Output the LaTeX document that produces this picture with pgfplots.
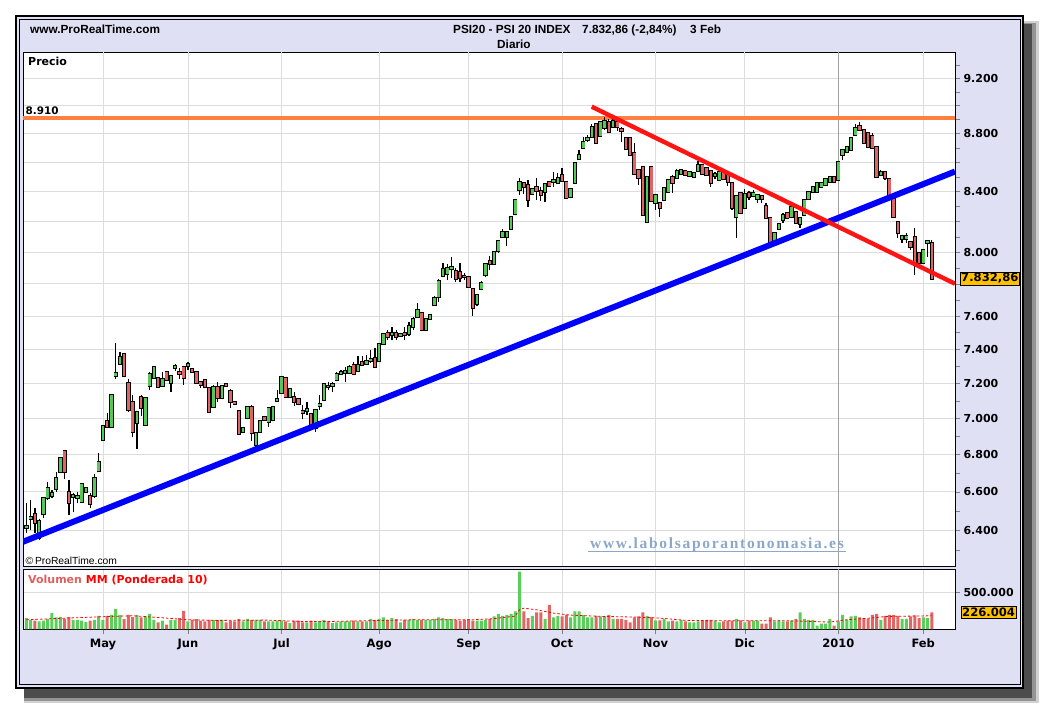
\documentclass[border=0pt]{standalone}
\usepackage{pgfplots}
\pgfplotsset{compat=1.18}
\usepackage{pgfplotstable}
\usepackage{fontspec}
\setmainfont{Liberation Sans}
\newfontfamily\dv{DejaVu Sans}
\newfontfamily\wm{Liberation Serif}[LetterSpace=11]

\definecolor{lav}{RGB}{224,224,244}
\definecolor{cgreen}{RGB}{85,200,85}
\definecolor{cred}{RGB}{224,100,100}
\definecolor{vgreen}{RGB}{90,205,90}
\definecolor{vred}{RGB}{224,102,102}
\definecolor{gridc}{RGB}{220,220,220}
\definecolor{yr}{RGB}{160,160,160}
\definecolor{boxy}{RGB}{255,192,0}
\definecolor{orangeL}{RGB}{255,128,64}
\definecolor{wmc}{RGB}{140,168,200}
\definecolor{volc}{RGB}{224,96,96}
\definecolor{lblue}{RGB}{0,0,255}
\definecolor{lred}{RGB}{255,20,20}

\newcommand\hdr{\fontsize{11.8}{13}\selectfont\bfseries}
\newcommand\tk{\dv\bfseries\fontsize{11}{12}\selectfont}
\newcommand\bx{\dv\bfseries\fontsize{11.6}{13}\selectfont}

\pgfplotstableread{
i o h l c u v
-18 6410 6540 6385 6421 1 148200
-17 6457 6556 6400 6467 1 125700
-16 6483 6514 6385 6436 0 112200
-15 6359 6457 6349 6446 1 103200
-14 6483 6572 6462 6567 1 112200
-13 6567 6652 6556 6620 1 134700
-12 6577 6609 6567 6593 1 215800
-11 6614 6705 6598 6673 1 157200
-10 6705 6786 6700 6781 1 166200
-9 6819 6825 6668 6705 0 139200
-8 6598 6662 6478 6540 0 161700
-7 6572 6593 6493 6583 1 125700
-6 6567 6598 6540 6577 1 125700
-5 6546 6645 6540 6641 1 112200
-4 6598 6625 6593 6620 1 94100
-3 6577 6593 6514 6535 0 112200
-2 6577 6694 6567 6673 1 125700
-1 6711 6808 6705 6759 1 179700
0 6880 6963 6874 6957 1 125700
1 6985 7031 6946 6952 0 179700
2 6952 7138 6946 7133 1 193200
3 7242 7437 7225 7260 1 274300
4 7313 7384 7307 7354 1 193200
5 7372 7378 7236 7242 0 134700
6 7202 7225 7036 7047 0 193200
7 7093 7133 6896 6924 0 161700
8 6974 7042 6830 7036 1 193200
9 7121 7133 7014 7059 0 157200
10 6963 7121 6957 7116 1 170700
11 7184 7266 7162 7254 1 206800
12 7231 7301 7225 7295 1 125700
13 7231 7237 7173 7179 0 89600
14 7184 7266 7179 7225 1 112200
15 7266 7272 7214 7219 0 58100
16 7202 7248 7150 7242 1 125700
17 7289 7313 7272 7301 1 125700
18 7266 7289 7225 7254 0 148200
19 7295 7301 7190 7231 0 247300
20 7301 7324 7278 7313 1 103200
21 7283 7289 7260 7266 0 125700
22 7266 7272 7196 7202 0 134700
23 7208 7214 7173 7190 0 112200
24 7219 7225 7173 7179 0 103200
25 7173 7179 7031 7036 0 125700
26 7064 7190 7059 7179 1 125700
27 7179 7208 7093 7116 0 125700
28 7116 7190 7110 7184 1 125700
29 7196 7202 7179 7184 0 89600
30 7156 7167 7059 7093 0 112200
31 7093 7099 7076 7082 0 103200
32 7042 7047 6908 6913 0 139200
33 6924 6952 6919 6946 1 103200
34 7002 7070 6996 7064 1 139200
35 7064 7076 6874 6919 0 125700
36 6852 6924 6836 6919 1 125700
37 6924 6991 6919 6985 1 125700
38 7008 7014 6985 6991 0 103200
39 6980 7064 6952 7059 1 103200
40 6991 7070 6985 7064 1 103200
41 7099 7162 7093 7110 1 112200
42 7145 7242 7139 7237 1 112200
43 7231 7237 7116 7121 0 103200
44 7121 7173 7116 7167 1 80600
45 7121 7150 7070 7093 0 112200
46 7110 7116 7076 7082 0 112200
47 7042 7076 6996 7031 0 89600
48 7042 7093 7019 7053 1 89600
49 7025 7031 6941 6946 0 112200
50 6946 7053 6924 7047 1 89600
51 7070 7133 7047 7082 1 103200
52 7104 7202 7099 7196 1 125700
53 7184 7208 7162 7179 0 103200
54 7184 7208 7150 7196 1 80600
55 7219 7266 7214 7254 1 89600
56 7254 7278 7248 7266 1 103200
57 7260 7295 7208 7272 1 103200
58 7260 7307 7254 7295 1 103200
59 7307 7324 7248 7254 0 112200
60 7272 7360 7266 7307 1 103200
61 7324 7360 7301 7307 0 103200
62 7313 7366 7307 7330 1 103200
63 7330 7395 7318 7342 1 134700
64 7348 7407 7289 7295 0 125700
65 7330 7437 7324 7431 1 139200
66 7431 7497 7425 7491 1 157200
67 7497 7515 7455 7473 0 125700
68 7485 7533 7455 7497 1 148200
69 7497 7515 7455 7473 0 134700
70 7479 7497 7473 7491 1 89600
71 7497 7533 7455 7485 0 125700
72 7491 7564 7479 7539 1 125700
73 7533 7594 7515 7582 1 139200
74 7594 7680 7588 7637 1 125700
75 7619 7625 7509 7515 0 125700
76 7515 7588 7509 7582 1 125700
77 7582 7612 7576 7606 1 125700
78 7668 7723 7662 7711 1 139200
79 7717 7829 7686 7817 1 157200
80 7848 7931 7842 7892 1 148200
81 7861 7924 7823 7899 1 134700
82 7892 7969 7836 7905 1 134700
83 7880 7899 7810 7829 0 125700
84 7874 7931 7810 7836 0 112200
85 7848 7867 7823 7842 0 125700
86 7842 7848 7773 7779 0 134700
87 7767 7773 7600 7649 0 112200
88 7674 7735 7662 7729 1 112200
89 7767 7817 7760 7804 1 112200
90 7855 7931 7842 7924 1 125700
91 7943 7975 7886 7924 0 139200
92 7924 8007 7918 8001 1 170700
93 8007 8078 7995 8072 1 206800
94 8098 8150 8091 8130 1 179700
95 8098 8137 8040 8130 1 188700
96 8150 8236 8143 8229 1 206800
97 8249 8349 8242 8342 1 238300
98 8409 8491 8376 8464 1 778900
99 8457 8464 8382 8430 0 238300
100 8443 8477 8295 8342 0 148200
101 8382 8423 8376 8416 1 179700
102 8430 8491 8342 8403 0 224800
103 8403 8430 8336 8376 0 224800
104 8396 8457 8329 8450 1 139200
105 8464 8470 8430 8436 0 328400
106 8464 8532 8430 8477 1 157200
107 8457 8525 8450 8491 1 179700
108 8511 8559 8464 8470 0 170700
109 8464 8470 8349 8355 0 188700
110 8362 8423 8355 8416 1 157200
111 8457 8600 8450 8594 1 238300
112 8621 8684 8614 8649 1 238300
113 8698 8775 8691 8740 1 193200
114 8754 8789 8740 8768 1 157200
115 8775 8867 8775 8846 1 157200
116 8867 8874 8726 8733 0 179700
117 8782 8888 8775 8881 1 170700
118 8839 8917 8824 8888 1 170700
119 8881 8902 8803 8810 0 193200
120 8846 8902 8839 8888 1 139200
121 8881 8896 8817 8846 0 139200
122 8831 8846 8740 8817 0 139200
123 8768 8775 8684 8691 0 125700
124 8768 8775 8642 8649 0 89600
125 8663 8733 8511 8518 0 157200
126 8546 8552 8443 8491 0 170700
127 8566 8573 8236 8242 0 224800
128 8196 8505 8190 8498 1 179700
129 8566 8573 8329 8336 0 161700
130 8322 8382 8275 8376 1 116700
131 8322 8329 8229 8289 0 116700
132 8342 8430 8336 8423 1 139200
133 8396 8484 8389 8477 1 103200
134 8498 8511 8389 8457 0 112200
135 8491 8552 8484 8539 1 103200
136 8518 8552 8511 8546 1 125700
137 8539 8546 8505 8511 0 103200
138 8505 8539 8498 8532 1 89600
139 8498 8532 8491 8525 1 89600
140 8539 8607 8532 8580 1 103200
141 8580 8587 8511 8518 0 112200
142 8559 8566 8505 8511 0 125700
143 8539 8546 8430 8457 0 125700
144 8505 8532 8484 8518 1 112200
145 8477 8539 8470 8532 1 89600
146 8525 8532 8477 8484 0 103200
147 8525 8532 8436 8464 0 112200
148 8457 8464 8275 8289 0 112200
149 8229 8376 8091 8369 1 139200
150 8389 8396 8249 8256 0 116700
151 8289 8416 8282 8382 1 89600
152 8389 8403 8342 8362 0 112200
153 8369 8409 8362 8389 1 112200
154 8349 8382 8322 8376 1 112200
155 8369 8376 8322 8349 0 71600
156 8302 8322 8216 8222 0 71600
157 8222 8229 8053 8059 0 157200
158 8059 8130 8053 8124 1 103200
159 8150 8190 8143 8183 1 116700
160 8209 8256 8190 8242 1 103200
161 8256 8262 8216 8222 0 103200
162 8229 8302 8222 8295 1 112200
163 8262 8269 8183 8190 0 139200
164 8183 8229 8157 8222 1 224800
165 8242 8349 8236 8342 1 139200
166 8349 8403 8342 8396 1 125700
167 8396 8436 8389 8430 1 125700
168 8396 8464 8389 8457 1 44600
169 8430 8464 8423 8457 1 71600
170 8443 8491 8436 8484 1 71600
171 8464 8505 8457 8498 1 139200
172 8498 8505 8457 8464 0 44600
173 8477 8607 8470 8600 1 103200
174 8649 8691 8614 8684 1 193200
175 8670 8712 8663 8705 1 125700
176 8684 8775 8677 8768 1 170700
177 8789 8867 8782 8839 1 179700
178 8853 8881 8817 8824 0 157200
179 8824 8831 8726 8733 0 148200
180 8803 8810 8698 8705 0 139200
181 8782 8803 8691 8698 0 193200
182 8705 8712 8491 8498 0 206800
183 8511 8546 8505 8532 1 125700
184 8532 8539 8477 8491 0 179700
185 8484 8491 8355 8362 0 193200
186 8355 8362 8222 8229 0 193200
187 8196 8203 8091 8124 0 179700
188 8085 8111 8059 8104 1 139200
189 8085 8124 8059 8104 1 139200
190 8066 8072 8014 8033 0 170700
191 8098 8157 7855 7931 0 184200
192 7995 8001 7924 7931 0 148200
193 7931 8020 7924 8014 1 157200
194 8059 8078 7969 8072 1 148200
195 8062 8078 7823 7833 0 226004
}\candles

\pgfplotstableread{
i p
-18.82 8910
200.47 8910
}\levelline
\pgfplotstableread{
i p
-18.82 6340
200.47 8536
}\blueline
\pgfplotstableread{
i p
115.0 8992
200.47 7801
}\redline

\begin{document}
\begin{tikzpicture}[x=1pt,y=1pt]
\useasboundingbox (0,0) rectangle (1040,705);
\fill[white] (0,0) rectangle (1040,705);
% shadow
\fill[black!18] (24,2) rectangle (1039,684);
\fill[black!42] (24,4) rectangle (1036,682);
\fill[black!70] (24,7) rectangle (1032,681);
% frame
\fill[lav] (15,16) rectangle (1024.3,690);
\draw[black, line width=2.3pt] (16.2,17.1) rectangle (1023.3,688.8);
\draw[black, line width=0.9pt] (19.8,20.5) rectangle (1020,685.5);

% ---------- price panel (price axis is logarithmic: plotted as ln(price)) ----------
\begin{axis}[
  at={(23pt,139pt)}, anchor=south west, scale only axis,
  width=932pt, height=514pt,
  xmin=-18.82, xmax=200.47,
  ymin=8.735137, ymax=9.147989,
  axis background/.style={fill=white},
  axis line style={black, line width=0.8pt},
  xtick=\empty,
  ymajorgrids, grid style={gridc, line width=0.8pt},
  ytick={8.764053,8.794825,8.824678,8.853665,8.881836,8.909235,8.935903,8.961879,8.987197,9.011889,9.035987,9.059517,9.082507,9.104980,9.126959},
  yticklabels={6.400,6.600,6.800,7.000,7.200,7.400,7.600,{},8.000,{},8.400,{},8.800,{},9.200},
  minor ytick={8.748305,8.779557,8.809863,8.839277,8.867850,8.895629,8.922658,8.948975,8.974618,8.999619,9.024011,9.047821,9.071078,9.093806,9.116030,9.137769},
  ytick pos=right, yticklabel pos=right,
  tick align=outside, major tick length=5pt, minor tick length=5pt,
  yticklabel style={font=\tk},
]
\pgfplotsinvokeforeach{0,20,42,65,86,108,130,151,193}{
  \draw[gridc, line width=0.8pt] (axis cs:#1,8.735137) -- (axis cs:#1,9.147989);
}
\draw[yr, line width=0.8pt] (axis cs:173,8.735137) -- (axis cs:173,9.147989);

% orange horizontal level 8.910
\addplot[orangeL, line width=4pt, forget plot] table[x=i, y expr={ln(\thisrow{p})}] {\levelline};

% wicks
\addplot[draw=none, mark=none, forget plot,
  error bars/.cd, y dir=plus, y explicit, error mark=none,
  error bar style={draw=black, line width=1.2pt}]
  table[x=i, y expr={ln(\thisrow{l})}, y error plus expr={ln(\thisrow{h})-ln(\thisrow{l})}] {\candles};
% body outlines
\addplot[draw=none, mark=none, forget plot,
  error bars/.cd, y dir=plus, y explicit, error mark=none,
  error bar style={draw=black, line width=4.3pt}]
  table[x=i, y expr={ln(min(\thisrow{o},\thisrow{c}))-0.0008},
        y error plus expr={abs(ln(\thisrow{c})-ln(\thisrow{o}))+0.0016}] {\candles};
% up bodies (u=1)
\addplot[draw=none, mark=none, forget plot,
  error bars/.cd, y dir=plus, y explicit, error mark=none,
  error bar style={draw=cgreen, line width=2.5pt}]
  table[x=i, y expr={ln(min(\thisrow{o},\thisrow{c}))},
        y error plus expr={\thisrow{u}*abs(ln(\thisrow{c})-ln(\thisrow{o}))}] {\candles};
% down bodies (u=0)
\addplot[draw=none, mark=none, forget plot,
  error bars/.cd, y dir=plus, y explicit, error mark=none,
  error bar style={draw=cred, line width=2.5pt}]
  table[x=i, y expr={ln(min(\thisrow{o},\thisrow{c}))},
        y error plus expr={(1-\thisrow{u})*abs(ln(\thisrow{c})-ln(\thisrow{o}))}] {\candles};

% trend lines
\addplot[lblue, line width=6pt, forget plot] table[x=i, y expr={ln(\thisrow{p})}] {\blueline};
\addplot[lred, line width=4.4pt, forget plot] table[x=i, y expr={ln(\thisrow{p})}] {\redline};

\coordinate (lastp) at (axis cs:200.47,8.966083);
\end{axis}

% ---------- volume panel ----------
\begin{axis}[
  at={(23pt,76pt)}, anchor=south west, scale only axis,
  width=932pt, height=60pt,
  xmin=-18.82, xmax=200.47, ymin=0, ymax=815000,
  axis background/.style={fill=white},
  axis line style={black, line width=0.8pt},
  xtick={0,20,42,65,86,108,130,151,193},
  xticklabels={May,Jun,Jul,Ago,Sep,Oct,Nov,Dic,Feb},
  extra x ticks={173}, extra x tick labels={2010},
  extra x tick style={grid style={yr, line width=0.8pt}},
  xmajorgrids, ymajorgrids, grid style={gridc, line width=0.8pt},
  ytick={500000}, yticklabels={500.000},
  scaled y ticks=false,
  xtick pos=left, ytick pos=right, yticklabel pos=right,
  tick align=outside, major tick length=5pt,
  yticklabel style={font=\tk},
  xticklabel style={font=\dv\bfseries\fontsize{11.5}{12}\selectfont, yshift=-1.5pt},
]
\addplot[ybar, bar width=3pt, bar shift=0pt, draw=none, fill=vgreen, forget plot]
  table[x=i, y expr={\thisrow{u}*\thisrow{v}}] {\candles};
\addplot[ybar, bar width=3pt, bar shift=0pt, draw=none, fill=vred, forget plot]
  table[x=i, y expr={(1-\thisrow{u})*\thisrow{v}}] {\candles};
% weighted moving average (10)
\addplot[red, line width=0.8pt, dash pattern=on 2.5pt off 2pt, forget plot] coordinates {
(-18,125700) (-8.5,148200) (1.6,170700) (7.1,179700) (15,148200) (19.7,125700)
(26.7,116700) (38.5,121000) (46.4,103200) (54.2,103200) (62,112200) (73.8,125700)
(87.1,125700) (91.8,139200) (95,161700) (97,175000) (98,261000) (99,283000)
(102,261000) (106,216000) (109.9,189000) (117.7,170700) (125.6,161700) (131,148200)
(137.3,116700) (145.2,112200) (153,112200) (160.9,112200) (166.4,103200) (171,94100)
(175,125700) (180.5,148200) (184.4,170700) (195,179700)};
\coordinate (lastv) at (axis cs:200.47,226004);
\end{axis}

% value boxes
\node[anchor=west, fill=boxy, draw=black, line width=0.8pt, inner sep=1.3pt, xshift=4.5pt, font=\bx] at (lastp) {7.832,86};
\node[anchor=west, fill=boxy, draw=black, line width=0.8pt, inner sep=1.3pt, xshift=5.5pt, font=\bx] at (lastv) {226.004};

% header
\node[anchor=base west, inner sep=0] at (30,671) {\hdr www.ProRealTime.com};
\node[anchor=base west, inner sep=0] at (453,671) {\hdr PSI20 - PSI 20 INDEX};
\node[anchor=base west, inner sep=0] at (582,671) {\hdr 7.832,86 (-2,84\%)};
\node[anchor=base west, inner sep=0] at (690,671) {\hdr 3 Feb};
\node[anchor=base west, inner sep=0] at (497,656.5) {\hdr Diario};

% panel texts
\node[anchor=base west, inner sep=0] at (28,639.3) {\dv\bfseries\fontsize{11}{12}\selectfont Precio};
\node[anchor=base west, inner sep=0] at (25.5,590) {\dv\bfseries\fontsize{10.4}{12}\selectfont 8.910};
\node[anchor=base west, inner sep=0] at (25.5,141) {\fontsize{10.3}{12}\selectfont \textcopyright\,ProRealTime.com};
\node[anchor=base west, inner sep=0] at (28,122) {\dv\bfseries\fontsize{11}{12}\selectfont\textcolor{volc}{Volumen} \textcolor{red}{MM (Ponderada 10)}};
\node[anchor=base, inner sep=0, text=wmc] at (717,157) {\wm\bfseries\fontsize{15.5}{17}\selectfont www.labolsaporantonomasia.es};
\draw[wmc, line width=1pt] (588,153.5) -- (846,153.5);
\end{tikzpicture}
\end{document}
